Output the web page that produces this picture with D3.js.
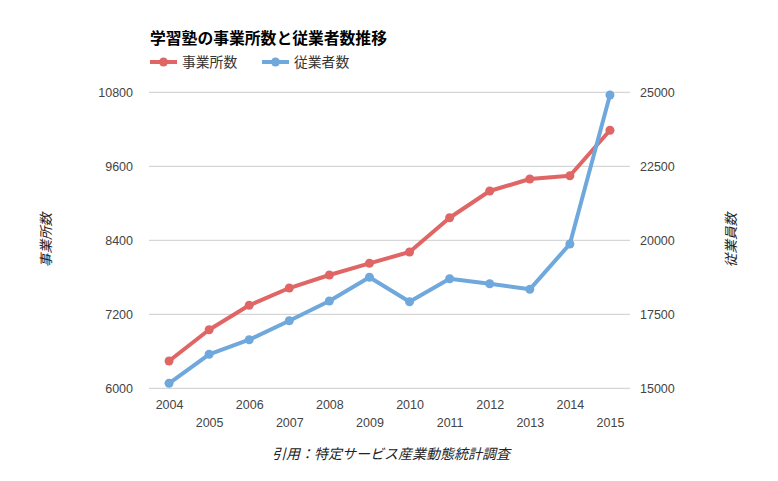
<!DOCTYPE html>
<html><head><meta charset="utf-8">
<script src="https://cdn.jsdelivr.net/npm/d3@7"></script>
<style>body{margin:0;background:#fff;} text{font-family:"Liberation Sans","Noto Sans CJK JP",sans-serif;}</style>
</head><body><svg id="c" width="778" height="481"></svg>
<script>
const years = ["2004","2005","2006","2007","2008","2009","2010","2011","2012","2013","2014","2015"];
const establishments = [6443,6950,7346,7626,7837,8027,8210,8766,9199,9394,9447,10184];
const employees = [15169,16149,16642,17284,17949,18750,17925,18702,18533,18344,19875,24908];
const leftTicks = [6000,7200,8400,9600,10800];
const rightTicks = [15000,17500,20000,22500,25000];
const titleText = "学習塾の事業所数と従業者数推移";
const seriesNames = ["事業所数","従業者数"];
const colors = ["#e06666","#6fa8dc"];

const svg = d3.select("#c");
const L = 149, R = 630, T = 92.3, B = 388.3;
const x = d3.scalePoint().domain(years).range([L, R]).padding(0.5);
const yL = d3.scaleLinear().domain([6000,10800]).range([B, T]);
const yR = d3.scaleLinear().domain([15000,25000]).range([B, T]);

// gridlines
svg.append("g").selectAll("line").data(leftTicks).join("line")
  .attr("x1", L).attr("x2", R).attr("y1", d=>yL(d)).attr("y2", d=>yL(d))
  .attr("stroke", "#cccccc").attr("stroke-width", 1);

// axes
const axL = svg.append("g").attr("transform", `translate(${L},0)`)
  .call(d3.axisLeft(yL).tickValues(leftTicks).tickSize(0).tickPadding(16).tickFormat(d3.format("d")));
const axR = svg.append("g").attr("transform", `translate(${R},0)`)
  .call(d3.axisRight(yR).tickValues(rightTicks).tickSize(0).tickPadding(10).tickFormat(d3.format("d")));
const axB = svg.append("g").attr("transform", `translate(0,${B})`)
  .call(d3.axisBottom(x).tickSize(0).tickPadding(12));
[axL, axR, axB].forEach(a => {
  a.select(".domain").remove();
  a.selectAll("text").attr("font-size", 12.5).attr("fill", "#444")
   .attr("font-family", "'Liberation Sans',Arial,sans-serif");
});
axB.selectAll(".tick text").attr("dy", (d,i) => i % 2 ? "2.1em" : "0.71em");

// lines
const series = [
  {vals: establishments, y: yL, color: colors[0]},
  {vals: employees, y: yR, color: colors[1]}
];
series.forEach(s => {
  const line = d3.line().x((d,i)=>x(years[i])).y(d=>s.y(d));
  svg.append("path").datum(s.vals).attr("d", line)
    .attr("fill", "none").attr("stroke", s.color).attr("stroke-width", 4)
    .attr("stroke-linejoin", "round");
  svg.append("g").selectAll("circle").data(s.vals).join("circle")
    .attr("cx", (d,i)=>x(years[i])).attr("cy", d=>s.y(d)).attr("r", 4.5)
    .attr("fill", s.color);
});

// title
svg.append("text").attr("x", 150).attr("y", 44).attr("font-size", 15.8)
  .attr("font-weight", "bold").attr("fill", "#000").text(titleText);

// legend
const legX = [150, 262];
seriesNames.forEach((n, i) => {
  const g = svg.append("g").attr("transform", `translate(${legX[i]},62)`);
  g.append("line").attr("x1", 0).attr("x2", 27).attr("y1", 0).attr("y2", 0)
    .attr("stroke", colors[i]).attr("stroke-width", 4);
  g.append("circle").attr("cx", 13.5).attr("cy", 0).attr("r", 4.5).attr("fill", colors[i]);
  g.append("text").attr("x", 32).attr("y", 5).attr("font-size", 13.8).attr("fill", "#333").text(n);
});

// axis titles
svg.append("text").attr("transform", "translate(51,240) rotate(-90)")
  .attr("text-anchor", "middle").attr("font-size", 13.6).attr("font-style", "italic")
  .attr("fill", "#222").text("事業所数");
svg.append("text").attr("transform", "translate(736,240) rotate(-90)")
  .attr("text-anchor", "middle").attr("font-size", 13.6).attr("font-style", "italic")
  .attr("fill", "#222").text("従業員数");

// source
svg.append("text").attr("x", 391).attr("y", 459).attr("text-anchor", "middle")
  .attr("font-size", 14).attr("font-style", "italic").attr("fill", "#222")
  .text("引用：特定サービス産業動態統計調査");
</script></body></html>
